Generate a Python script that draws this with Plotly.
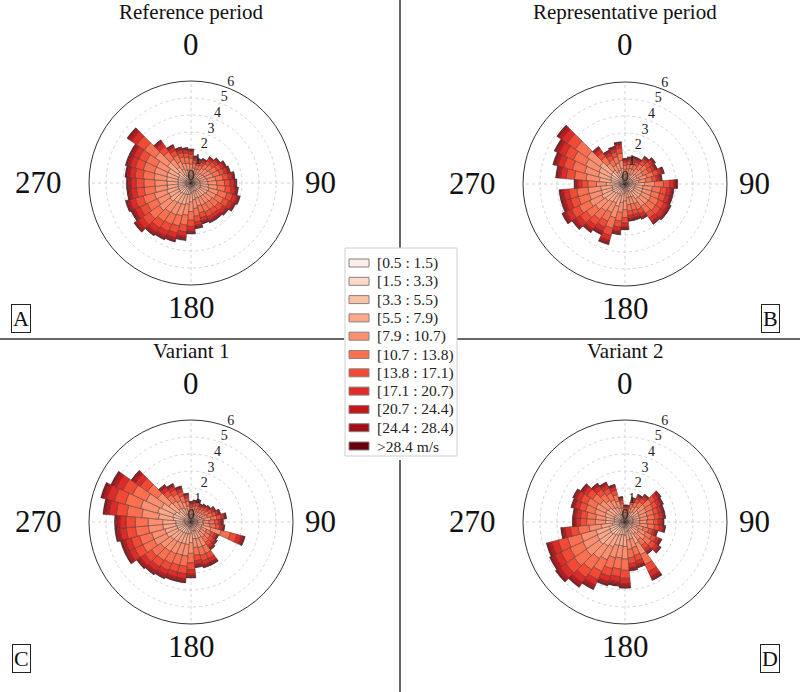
import plotly.graph_objects as go

# ---------------- data ----------------
directions = list(range(0, 360, 10))

speed_labels = ["[0.5 : 1.5)", "[1.5 : 3.3)", "[3.3 : 5.5)", "[5.5 : 7.9)",
                "[7.9 : 10.7)", "[10.7 : 13.8)", "[13.8 : 17.1)", "[17.1 : 20.7)",
                "[20.7 : 24.4)", "[24.4 : 28.4)", ">28.4 m/s"]

# share of each speed class in a direction's total frequency
class_shares = [0.02, 0.06, 0.12, 0.17, 0.19, 0.17, 0.12, 0.08, 0.04, 0.02, 0.01]

# total frequency (%) per direction, 0..350 deg
reference_totals = [2.0, 1.6, 1.5, 1.6, 1.9, 2.1, 2.3, 2.4, 2.6, 2.7, 2.8, 3.0,
                    2.9, 2.7, 2.6, 2.6, 2.5, 2.7, 3.0, 3.4, 3.6, 3.7, 3.8, 4.1,
                    3.9, 4.0, 3.8, 3.8, 3.9, 4.0, 4.0, 4.6, 3.1, 2.5, 2.2, 2.1]
representative_totals = [1.5, 1.6, 1.7, 1.7, 2.0, 2.2, 2.1, 2.4, 2.2, 3.1, 2.9, 2.9,
                         3.0, 3.0, 2.9, 2.3, 2.2, 2.2, 2.7, 3.0, 3.7, 3.3, 3.5, 3.8,
                         4.1, 3.9, 3.9, 3.0, 4.1, 4.4, 4.6, 4.9, 2.7, 2.2, 2.3, 2.5]
variant1_totals = [1.2, 1.3, 1.4, 1.2, 1.3, 1.4, 1.6, 1.8, 2.1, 1.9, 2.0, 3.3,
                   1.8, 1.9, 2.0, 2.8, 2.8, 2.7, 3.3, 3.6, 3.6, 3.7, 3.8, 3.9,
                   4.3, 4.3, 4.5, 4.5, 5.2, 5.5, 5.2, 4.3, 2.7, 2.5, 2.2, 1.7]
variant2_totals = [1.0, 1.0, 1.5, 1.8, 2.0, 2.6, 2.5, 2.4, 2.4, 2.3, 2.4, 2.0,
                   2.4, 2.6, 2.3, 3.8, 2.8, 2.9, 3.9, 3.8, 3.9, 4.4, 4.7, 5.0,
                   4.9, 4.8, 3.8, 3.1, 3.1, 3.3, 3.4, 3.2, 2.8, 2.6, 2.3, 1.5]

panel_titles = ["Reference period", "Representative period", "Variant 1", "Variant 2"]
panel_letters = ["A", "B", "C", "D"]
radial_ticks = [0, 1, 2, 3, 4, 5, 6]
compass_labels = ["0", "90", "180", "270"]

# ---------------- style ----------------
class_colors = ["#fdeee7", "#fcdacb", "#fcc2a8", "#fca98b", "#fc8f6f", "#fb7050",
                "#f24a35", "#de2b27", "#c3161b", "#a10f15", "#67000d"]
W, H = 800, 692
R = 102
centers = [(191, 183), (625, 184), (191, 522), (625, 522)]
FONT = "Liberation Serif"

def px(x):
    return x / W

def py(y):
    return 1 - y / H

panels = [reference_totals, representative_totals, variant1_totals, variant2_totals]

fig = go.Figure()
layout_polars = {}
annotations = []
shapes = []
for i, totals in enumerate(panels):
    pid = "polar" if i == 0 else f"polar{i+1}"
    for k, lab in enumerate(speed_labels):
        fig.add_trace(go.Barpolar(
            r=[t * class_shares[k] for t in totals],
            theta=directions,
            width=10,
            name=lab,
            legendgroup=lab,
            showlegend=False,
            marker=dict(color=class_colors[k],
                        line=dict(color="rgba(70,50,50,0.75)", width=0.6)),
            subplot=pid,
            hoverinfo="skip",
        ))
    fig.add_trace(go.Scatterpolar(
        r=radial_ticks, theta=[23] * len(radial_ticks), mode="text",
        text=[str(v) for v in radial_ticks], textposition="top center",
        textfont=dict(family=FONT, size=14, color="#222"),
        showlegend=False, subplot=pid, hoverinfo="skip",
    ))
    cx, cy = centers[i]
    layout_polars[pid] = dict(
        domain=dict(x=[px(cx - R), px(cx + R)], y=[py(cy + R), py(cy - R)]),
        bgcolor="white",
        barmode="stack",
        radialaxis=dict(range=[0, 6], tickvals=[1, 2, 3, 4, 5, 6], showticklabels=False,
                        ticks="", showline=False, gridcolor="#d4d4d4", griddash="dot",
                        gridwidth=1, layer="below traces"),
        angularaxis=dict(rotation=90, direction="clockwise", tickvals=[0, 90, 180, 270],
                         showticklabels=False, ticks="", showline=True, linecolor="#333",
                         linewidth=1, gridcolor="#d4d4d4", griddash="dot",
                         layer="below traces"),
    )
    # title
    ty = 12 if i < 2 else 351
    annotations.append(dict(x=px(cx), y=py(ty), xref="paper", yref="paper", text=panel_titles[i],
                            showarrow=False, font=dict(family=FONT, size=21, color="#111"),
                            xanchor="center", yanchor="middle"))
    # compass labels
    pos = [(cx, cy - 139), (cx + 129, cy - 1), (cx, cy + 124), (cx - 153, cy - 1)]
    for lab, (ax, ay) in zip(compass_labels, pos):
        annotations.append(dict(x=px(ax), y=py(ay), xref="paper", yref="paper", text=lab,
                                showarrow=False, font=dict(family=FONT, size=31, color="#111"),
                                xanchor="center", yanchor="middle"))
    # panel letter
    lx = 21 if i % 2 == 0 else 770
    ly = 318 if i < 2 else 658
    annotations.append(dict(x=px(lx), y=py(ly), xref="paper", yref="paper", text=panel_letters[i],
                            showarrow=False, font=dict(family=FONT, size=22, color="#111"),
                            bordercolor="#222", borderwidth=1, borderpad=1,
                            xanchor="center", yanchor="middle"))

# separating lines
line_style = dict(color="#333", width=1.5)
shapes += [
    dict(type="line", xref="paper", yref="paper", x0=px(400), x1=px(400), y0=py(0), y1=py(248), line=line_style),
    dict(type="line", xref="paper", yref="paper", x0=px(400), x1=px(400), y0=py(460), y1=py(692), line=line_style),
    dict(type="line", xref="paper", yref="paper", x0=px(0), x1=px(344), y0=py(339), y1=py(339), line=line_style),
    dict(type="line", xref="paper", yref="paper", x0=px(457), x1=px(800), y0=py(339), y1=py(339), line=line_style),
]

# legend for the speed classes (box, swatches, labels)
LX0, LX1, LY0, LY1 = 345, 457, 248, 456
ROW0, ROWSTEP = 263, 18.3
shapes.append(dict(type="rect", xref="paper", yref="paper", x0=px(LX0), x1=px(LX1),
                   y0=py(LY1), y1=py(LY0), fillcolor="white",
                   line=dict(color="#cfcfcf", width=1), layer="above"))
for k, lab in enumerate(speed_labels):
    yc = ROW0 + ROWSTEP * k
    shapes.append(dict(type="rect", xref="paper", yref="paper", x0=px(349), x1=px(369),
                       y0=py(yc + 4), y1=py(yc - 4), fillcolor=class_colors[k],
                       line=dict(color="#8a8080", width=1), layer="above"))
    annotations.append(dict(x=px(375), y=py(yc), xref="paper", yref="paper", text=lab,
                            showarrow=False, font=dict(family=FONT, size=15.5, color="#222"),
                            xanchor="left", yanchor="middle"))

fig.update_layout(
    width=W, height=H, margin=dict(l=0, r=0, t=0, b=0),
    paper_bgcolor="white", plot_bgcolor="white",
    annotations=annotations, shapes=shapes,
    showlegend=False,
    **layout_polars,
)

fig.write_html("out.html")
